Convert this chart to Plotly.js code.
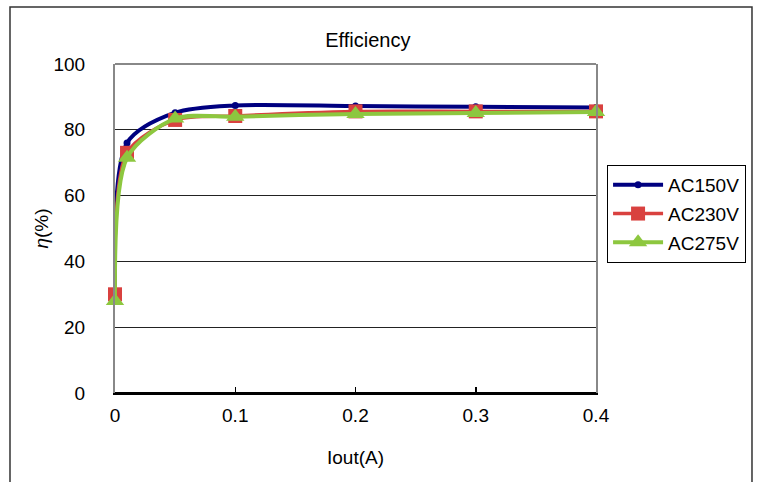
<!DOCTYPE html>
<html>
<head>
<meta charset="utf-8">
<script src="https://cdn.plot.ly/plotly-3.0.1.min.js"></script>
<style>html,body{margin:0;padding:0;background:#fff;}#chart{width:760px;height:482px;}</style>
</head>
<body>
<div id="chart"></div>
<script>
const iout = [0, 0.01, 0.05, 0.1, 0.2, 0.3, 0.4];
const ac150 = [30, 76, 85.2, 87.4, 87.2, 87.0, 86.8];
const ac230 = [30, 73, 83.0, 84.2, 85.6, 85.6, 85.6];
const ac275 = [28, 71.5, 83.4, 84.0, 84.8, 85.1, 85.4];
const seriesNames = ['AC150V', 'AC230V', 'AC275V'];

const FONT = 'Liberation Sans, Arial, sans-serif';

const traces = [
  {x: iout, y: ac150, name: seriesNames[0], legendgroup: 'a', type: 'scatter', mode: 'lines+markers', cliponaxis: false,
   line: {color: '#000080', width: 4, shape: 'spline', smoothing: 0.8},
   marker: {symbol: 'circle', size: 7, color: '#000080'}},
  {x: iout, y: ac230, name: seriesNames[1], legendgroup: 'b', type: 'scatter', mode: 'lines+markers', cliponaxis: false,
   line: {color: '#D9413F', width: 3.5, shape: 'spline', smoothing: 0.8},
   marker: {symbol: 'square', size: 14, color: '#D9413F'}},
  {x: iout, y: ac275, name: seriesNames[2], legendgroup: 'c', type: 'scatter', mode: 'lines+markers', cliponaxis: false,
   line: {color: '#8DC73F', width: 4, shape: 'spline', smoothing: 0.8},
   marker: {symbol: 'triangle-up', size: 16, color: '#8DC73F'}}
];

const layout = {
  width: 760, height: 482,
  margin: {l: 115, r: 164, t: 64, b: 89, pad: 0},
  paper_bgcolor: '#fff', plot_bgcolor: '#fff',
  font: {family: FONT, size: 19, color: '#000'},
  title: {text: 'Efficiency', x: 0.484, xref: 'container', y: 0.917, yanchor: 'middle', font: {family: FONT, size: 20, color: '#000'}},
  showlegend: true,
  legend: {x: 1.023, xanchor: 'left', y: 0.693, yanchor: 'top', bordercolor: '#000', borderwidth: 1,
    bgcolor: '#fff', font: {family: FONT, size: 19}, tracegroupgap: 1, traceorder: 'grouped', itemwidth: 50},
  xaxis: {range: [0, 0.4], tickvals: [0, 0.1, 0.2, 0.3, 0.4], ticktext: ['0', '0.1', '0.2', '0.3', '0.4'],
    showgrid: false, zeroline: false, showline: true, linecolor: '#000', linewidth: 2,
    ticks: 'inside', ticklen: 6, tickcolor: '#000', tickwidth: 1.5, ticklabelstandoff: 4,
    tickfont: {family: FONT, size: 19},
    title: {text: 'Iout(A)', standoff: 26, font: {family: FONT, size: 19}}},
  yaxis: {range: [0, 100], tickvals: [0, 20, 40, 60, 80, 100],
    showgrid: true, gridcolor: '#222', gridwidth: 1.2, zeroline: false,
    showline: true, linecolor: '#888', linewidth: 2, mirror: true,
    ticks: '', ticklabelstandoff: 24, tickfont: {family: FONT, size: 19},
    title: {text: '<i>η</i>(%)', standoff: 0, font: {family: FONT, size: 19}}},
  shapes: [
    {type: 'line', xref: 'paper', yref: 'paper', x0: 0, x1: 1, y0: 1, y1: 1, line: {color: '#888', width: 2}, layer: 'above'},
    {type: 'line', xref: 'paper', yref: 'paper', x0: 0, x1: 1, y0: 0, y1: 0, line: {color: '#000', width: 2}, layer: 'below'},
    {type: 'rect', xref: 'paper', yref: 'paper', x0: -0.2183, x1: 1.3243, y0: -0.3, y1: 1.1733, line: {color: '#333', width: 1.5}, fillcolor: 'rgba(0,0,0,0)', layer: 'below'}
  ]
};

Plotly.newPlot('chart', traces, layout, {displayModeBar: false, staticPlot: true});
</script>
</body>
</html>
